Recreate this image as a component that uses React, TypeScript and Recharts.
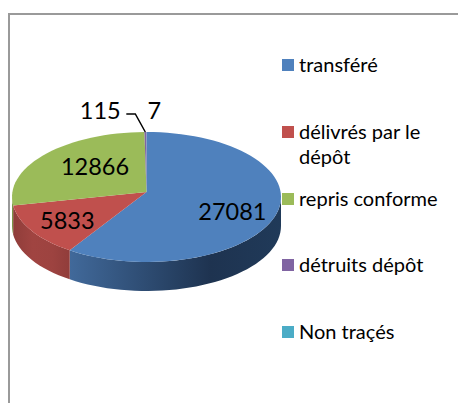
import { PieChart, Pie, Legend } from "recharts";

const categories = ["transféré", "délivrés par le dépôt", "repris conforme", "détruits dépôt", "Non traçés"];
const values = [27081, 5833, 12866, 115, 7];
const colors = ["#4f81bd", "#c0504d", "#9bbb59", "#8064a2", "#4bacc6"];

// side wall shading, left to right
const wallStops = [
  ["#41699a", "#2f4e75", "#1e3350", "#203a59"],
  ["#8f3d3a", "#a04441", "#9d4340", "#8f3c3a"],
  ["#7a9446", "#7a9446", "#7a9446", "#7a9446"],
  ["#65508a", "#65508a", "#65508a", "#65508a"],
  ["#3a8a9e", "#3a8a9e", "#3a8a9e", "#3a8a9e"],
];
const wallRanges = [
  [70, 281],
  [13, 72],
  [10, 20],
  [140, 150],
  [140, 150],
];

// label nudges from the ellipse anchor point
const labelOffsets = [
  [-2, 2],
  [-4, -2],
  [20, -3],
  [0, 0],
  [0, 0],
];

const data = categories.map((name, i) => ({ name, value: values[i], fill: colors[i] }));

const CX = 146.5;
const CY = 197;
const RX = 134.5;
const SQUASH = 65 / 134.5;
const DEPTH = 29;
const APEX_LIFT = 5; // perspective: slices meet above the middle of the ellipse
const FONT = "Lato, Carlito, sans-serif";

const rad = (a: number) => (a * Math.PI) / 180;

// same perspective, the rim angles lean towards the back
const warp = (a: number) => a + 4.5 * Math.cos(rad(a));

function pt(cx: number, cy: number, r: number, a: number) {
  return [cx + r * Math.cos(rad(a)), cy - r * SQUASH * Math.sin(rad(a))];
}

function arc(cx: number, cy: number, r: number, from: number, to: number) {
  // walks the ellipse in small steps so that large arcs stay simple
  const steps = Math.max(2, Math.ceil(Math.abs(from - to) / 3));
  const out: string[] = [];
  for (let i = 0; i <= steps; i++) {
    const [x, y] = pt(cx, cy, r, from + ((to - from) * i) / steps);
    out.push(`${x.toFixed(2)} ${y.toFixed(2)}`);
  }
  return out;
}

const TopFace = (props: any) => {
  const { cx, cy, outerRadius, startAngle, endAngle, fill } = props;
  const pts = arc(cx, cy, outerRadius, warp(startAngle), warp(endAngle));
  return <path d={`M${cx} ${cy - APEX_LIFT}L${pts.join("L")}Z`} fill={fill} stroke="none" />;
};

const SideWall = (props: any) => {
  const { cx, cy, outerRadius, startAngle, endAngle, index } = props;
  // only the front half of the rim shows, angles run -180..0 there
  const from = Math.min(warp(startAngle), 0);
  const to = Math.max(warp(endAngle), -180);
  if (from <= to) return null;
  const top = arc(cx, cy, outerRadius, from, to);
  const bottom = arc(cx, cy + DEPTH, outerRadius, to, from);
  return <path d={`M${top.join("L")}L${bottom.join("L")}Z`} fill={`url(#wall-${index})`} stroke="none" />;
};

const renderLabel = (props: any) => {
  const { cx, cy, index, midAngle } = props;
  const common = { fontFamily: FONT, fontSize: 23.5, fill: "#000", textAnchor: "middle" as const, dominantBaseline: "central" as const };
  if (index === 3) {
    const [ax, ay] = pt(cx, cy, RX, midAngle);
    return (
      <g>
        <polyline points={`${ax - 19} ${ay - 18} ${ax - 10} ${ay - 18} ${ax} ${ay}`} fill="none" stroke="#000" strokeWidth={1.5} />
        <text x={ax - 45} y={ay - 22} {...common}>{values[index]}</text>
      </g>
    );
  }
  if (index === 4) {
    const [ax, ay] = pt(cx, cy, RX, midAngle);
    return <text x={ax + 8} y={ay - 22} {...common}>{values[index]}</text>;
  }
  const [x, y] = pt(cx, cy, RX * 0.68, midAngle);
  return (
    <text x={x + labelOffsets[index][0]} y={y + labelOffsets[index][1]} {...common}>
      {values[index]}
    </text>
  );
};

const LegendBlock = () => (
  <div style={{ fontFamily: FONT, fontSize: 20, lineHeight: "25px", color: "#000" }}>
    {categories.map((name, i) => (
      <div key={name} style={{ height: 66.8, display: "flex", alignItems: "flex-start" }}>
        <span style={{ width: 12, height: 12, marginTop: 7, marginRight: 5, background: colors[i], flex: "none" }} />
        <span style={{ width: 150 }}>{name}</span>
      </div>
    ))}
  </div>
);

export default function App() {
  return (
    <div style={{ position: "absolute", left: 0, top: 0, width: 458, height: 403, overflow: "hidden", background: "#fff" }}>
      <div style={{ position: "absolute", left: 8, top: 13, width: 450, height: 390, borderLeft: "2px solid #9a9a9a", borderTop: "2px solid #9a9a9a" }} />
      <PieChart width={458} height={403} margin={{ top: 0, right: 0, bottom: 0, left: 0 }} style={{ position: "absolute", left: 0, top: 0 }}>
        <defs>
          {wallStops.map((stops, i) => (
            <linearGradient key={i} id={`wall-${i}`} gradientUnits="userSpaceOnUse" x1={wallRanges[i][0]} x2={wallRanges[i][1]} y1={0} y2={0}>
              {stops.map((c, j) => (
                <stop key={j} offset={j / (stops.length - 1)} stopColor={c} />
              ))}
            </linearGradient>
          ))}
        </defs>
        <Pie
          data={data}
          dataKey="value"
          nameKey="name"
          cx={CX}
          cy={CY}
          outerRadius={RX}
          startAngle={90}
          endAngle={-270}
          shape={SideWall}
          legendType="none"
          isAnimationActive={false}
        />
        <Pie
          data={data}
          dataKey="value"
          nameKey="name"
          cx={CX}
          cy={CY}
          outerRadius={RX}
          startAngle={90}
          endAngle={-270}
          shape={TopFace}
          label={renderLabel}
          labelLine={false}
          isAnimationActive={false}
        />
        <Legend
          content={<LegendBlock />}
          wrapperStyle={{ position: "absolute", left: 282, top: 52, width: 172, height: 340 }}
        />
      </PieChart>
    </div>
  );
}
